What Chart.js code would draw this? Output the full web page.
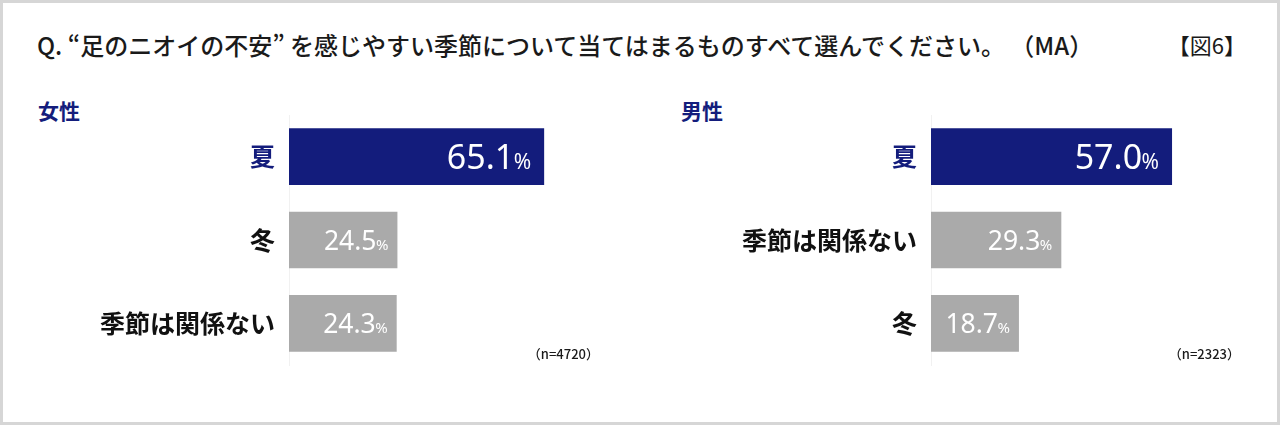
<!DOCTYPE html>
<html lang="ja">
<head>
<meta charset="utf-8">
<script src="https://cdn.jsdelivr.net/npm/chart.js@4.4.1/dist/chart.umd.min.js"></script>
<style>
  html, body { margin:0; padding:0; background:#fff; }
  body { position:relative; width:1280px; height:425px; overflow:hidden; font-family:"Noto Sans CJK JP", sans-serif; }
  .frame { position:absolute; left:0; top:0; width:1280px; height:425px; box-sizing:border-box; border:3px solid #d6d6d6; }
  .title { position:absolute; left:37px; top:29px; font-size:24px; line-height:32px; font-weight:500; color:#1a1a1a; white-space:nowrap; }
  .fig { position:absolute; right:34px; top:28px; font-size:22px; line-height:32px; font-weight:400; color:#1a1a1a; }
  .sub { position:absolute; top:96px; font-size:21px; line-height:28px; font-weight:bold; color:#141d7c; }
  .n { position:absolute; top:345px; font-size:13px; line-height:18px; font-weight:500; color:#1a1a1a; }
  .box { position:absolute; top:100px; height:270px; }
</style>
</head>
<body>
<div class="frame"></div>
<div class="title">Q. “足のニオイの不安” を感じやすい季節について当てはまるものすべて選んでください。 （MA）</div>
<div class="fig">【図6】</div>

<div class="sub" style="left:38px;">女性</div>
<div class="sub" style="left:681px;">男性</div>

<div class="box" style="left:0; width:598px;"><canvas id="female"></canvas></div>
<div class="box" style="left:640px; width:600px;"><canvas id="male"></canvas></div>

<div class="n" style="right:681px;">（n=4720）</div>
<div class="n" style="right:40px;">（n=2323）</div>

<script>
// 女性
const femaleLabels = ['夏', '冬', '季節は関係ない'];
const femaleValues = [65.1, 24.5, 24.3];
// 男性
const maleLabels = ['夏', '季節は関係ない', '冬'];
const maleValues = [57.0, 29.3, 18.7];

const navy = '#131c7c';
const gray = '#aaaaaa';

// 棒の中に白で数値と小さい%を書く
const valueLabels = {
  id: 'valueLabels',
  afterDatasetsDraw(chart) {
    const ctx = chart.ctx;
    const meta = chart.getDatasetMeta(0);
    meta.data.forEach((bar, i) => {
      const v = chart.data.datasets[0].data[i].toFixed(1);
      const big = i === 0;
      ctx.save();
      ctx.fillStyle = '#fff';
      ctx.textAlign = 'right';
      ctx.textBaseline = 'alphabetic';
      const right = bar.x - (big ? 13 : 9);
      const base = bar.y + (big ? 12 : 9.5);
      ctx.font = big ? '400 21px "Noto Sans"' : '400 15px "Noto Sans"';
      const pw = ctx.measureText('%').width;
      ctx.fillText('%', right, base);
      ctx.font = big ? '400 34px "Noto Sans"' : '400 26.5px "Noto Sans"';
      ctx.fillText(v, right - pw + 0.5, base);
      ctx.restore();
    });
  }
};

function graficar(id, labels, datos, axisW, min, max) {
  const ctx = document.getElementById(id);
  new Chart(ctx, {
    type: 'bar',
    data: {
      labels: labels,
      datasets: [{
        data: datos,
        base: min,
        backgroundColor: datos.map((d, i) => i === 0 ? navy : gray),
        borderWidth: 0,
        barPercentage: 0.68,
        categoryPercentage: 1
      }]
    },
    options: {
      indexAxis: 'y',
      responsive: true,
      maintainAspectRatio: false,
      animation: false,
      layout: { padding: { top: 15, bottom: 5, left: 0, right: 0 } },
      plugins: { legend: { display: false }, tooltip: { enabled: false } },
      scales: {
        x: { display: false, min: min, max: max },
        y: {
          afterFit(scale) {
            scale.width = axisW;
            scale.paddingTop = 0;
            scale.paddingBottom = 0;
          },
          grid: { display: false, drawTicks: false },
          border: { color: '#f1f1f1', width: 1 },
          ticks: {
            padding: 14,
            color: (c) => c.index === 0 ? navy : '#111',
            font: { family: 'Noto Sans CJK JP', size: 25, weight: 'bold' }
          }
        }
      }
    },
    plugins: [valueLabels]
  });
}

graficar('female', femaleLabels, femaleValues, 289, -5.5, 80);
graficar('male', maleLabels, maleValues, 291, -3.3, 74);
</script>
</body>
</html>
